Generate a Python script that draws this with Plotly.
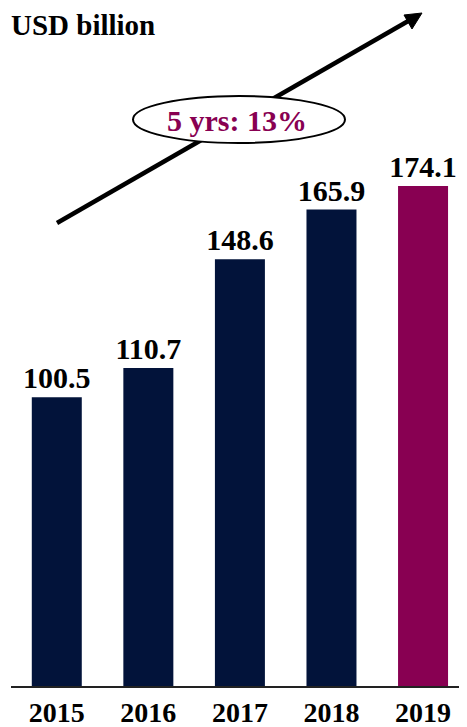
import plotly.graph_objects as go

years = ["2015", "2016", "2017", "2018", "2019"]
values = [100.5, 110.7, 148.6, 165.9, 174.1]
bar_colors = ["#02133a", "#02133a", "#02133a", "#02133a", "#880052"]
cagr_label = "5 yrs: 13%"
unit_label = "USD billion"

SERIF = "Liberation Serif, Times New Roman, serif"

# page body has an 8px margin, so the figure starts at (8, 8)
OFF = 8
W, H = 467 - OFF, 727 - OFF
L, B = 3, 41
PW, PH = W - L, H - B


def px(x, y):
    # screenshot pixel -> paper coords
    return (x - OFF - L) / PW, (PH - (y - OFF)) / PH


fig = go.Figure()
fig.add_trace(go.Bar(
    x=years, y=values,
    marker=dict(color=bar_colors, line_width=0),
    text=["<b>%.1f</b>" % v for v in values],
    textposition="outside",
    constraintext="none",
    textfont=dict(family=SERIF, size=30, color="black"),
    cliponaxis=False,
    width=0.546,
))

# growth arrow
x0, y0 = px(57, 223)
x1, y1 = px(410, 20)
shapes = [dict(type="line", xref="paper", yref="paper", x0=x0, y0=y0, x1=x1, y1=y1,
               line=dict(color="black", width=4.5), layer="above")]
tip = px(422, 13)
a = px(412, 29)
b = px(404, 15)
shapes.append(dict(type="path", xref="paper", yref="paper",
                   path="M %f %f L %f %f L %f %f Z" % (tip[0], tip[1], a[0], a[1], b[0], b[1]),
                   fillcolor="black", line=dict(color="black", width=1), layer="above"))
ex0, ey0 = px(133, 143)
ex1, ey1 = px(345, 96)
shapes.append(dict(type="circle", xref="paper", yref="paper", x0=ex0, y0=ey0, x1=ex1, y1=ey1,
                   fillcolor="white", line=dict(color="black", width=2), layer="above"))

cx, cy = px(237, 120)
fig.add_annotation(x=cx, y=cy, xref="paper", yref="paper", text="<b>%s</b>" % cagr_label,
                   showarrow=False, xanchor="center", yanchor="middle",
                   font=dict(family=SERIF, size=30, color="#880052"))
ux, uy = px(10, 8)
fig.add_annotation(x=ux, y=uy, xref="paper", yref="paper", text="<b>%s</b>" % unit_label,
                   showarrow=False, xanchor="left", yanchor="top", borderpad=0,
                   font=dict(family=SERIF, size=29, color="black"))

fig.update_layout(
    width=W, height=H,
    margin=dict(l=L, r=0, t=0, b=B),
    plot_bgcolor="white", paper_bgcolor="white",
    showlegend=False,
    shapes=shapes,
    font=dict(family=SERIF),
)
fig.update_xaxes(
    tickmode="array", tickvals=years, ticktext=["<b>%s</b>" % y for y in years],
    tickfont=dict(family=SERIF, size=28, color="black"),
    showline=True, linecolor="#222", linewidth=2, ticks="", showgrid=False,
    range=[-0.5, 4.48],
)
fig.update_yaxes(visible=False, range=[0, 174.1 * PH / 500], showgrid=False)

fig.write_html("out.html")
